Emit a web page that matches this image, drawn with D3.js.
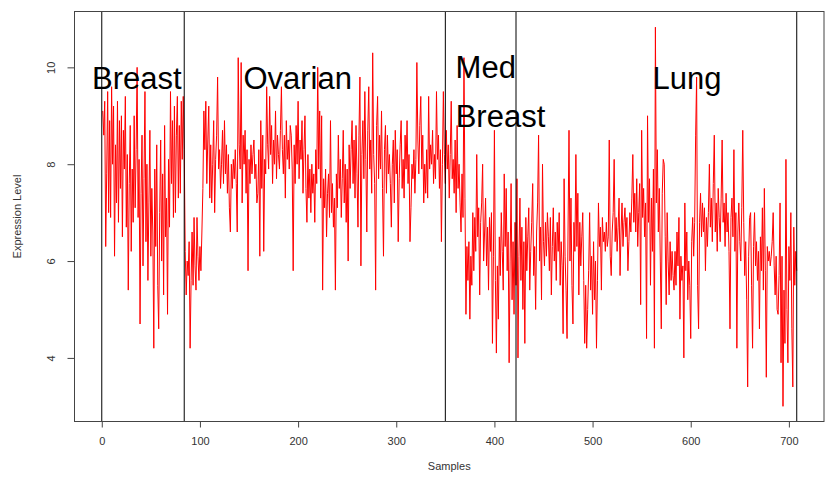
<!DOCTYPE html>
<html><head><meta charset="utf-8">
<script src="https://cdn.jsdelivr.net/npm/d3@7"></script>
<style>body{margin:0;background:#fff}svg{display:block}</style>
</head><body>
<svg id="chart" width="827" height="477"></svg>
<script>
// Expression level per sample, grouped by tissue block (samples 1..708)
const breastVals = [
9.1,8.6,9.3,6.3,7.8,9.5,7.0,8.9,6.9,9.6,
8.0,9.2,6.1,8.4,7.2,9.3,6.8,8.9,7.5,9.0,
6.5,8.7,7.9,9.4,6.7,8.2,5.4,7.6,8.8,6.2,
7.9,6.8,9.0,7.1,8.3,10.0,6.9,8.1,4.7,7.4,
8.6,5.9,7.7,9.5,6.4,8.0,5.6,7.2,8.7,6.1,
7.5,6.6,4.2,7.9,6.3,8.4,5.5,4.6,7.0,8.5,
6.0,7.8,5.3,8.8,6.5,7.3,4.9,8.1,6.7,9.5,
7.6,8.9,6.9,9.2,7.0,8.6,9.4,7.3,8.8,7.4,
9.3,8.1,9.4,8.3];
const ovarianVals = [
6.2,5.3,6.0,5.7,6.4,4.2,5.6,6.6,5.5,6.9,
5.9,5.4,6.9,6.1,5.6,6.3,5.8,6.6,7.5,9.1,
8.3,9.3,7.6,8.5,9.2,7.3,8.4,7.2,8.0,8.9,
7.0,8.1,8.6,9.8,7.9,8.3,7.5,8.0,8.7,7.6,
8.9,7.8,8.4,7.4,8.2,7.1,6.6,8.0,7.5,8.1,
7.7,8.3,7.6,6.6,10.2,8.4,7.9,10.1,7.2,8.6,
8.0,8.7,7.4,8.3,5.8,8.1,7.6,8.4,7.8,8.2,
8.5,7.7,8.0,7.2,7.4,8.3,6.1,8.9,7.5,8.6,
6.2,8.1,7.8,9.6,8.4,7.9,9.4,8.2,8.8,7.6,
8.5,8.0,9.1,7.7,8.6,8.2,7.9,8.7,9.6,8.3,
7.8,8.6,7.3,8.9,8.1,8.5,7.9,8.8,
8.6,7.9,5.8,8.4,7.6,8.8,8.0,9.3,7.7,8.5,
8.1,8.9,7.4,8.3,9.0,7.5,6.8,8.2,7.3,7.9,
7.0,8.0,7.4,7.8,6.8,8.3,7.6,10.0,7.9,9.1,
7.3,9.0,5.4,7.7,7.1,7.9,6.5,7.4,7.8,6.9,
8.9,7.0,7.6,6.7,7.3,5.4,7.8,7.1,8.6,7.5,
8.1,6.9,7.7,8.7,7.2,8.0,6.8,7.9,6.0,8.4,
7.5,8.3,8.9,7.6,8.5,7.3,8.8,7.8,6.7,8.6,
9.8,5.9,8.2,8.9,7.7,9.5,8.1,6.6,8.7,9.6,
7.9,8.5,7.4,10.3,8.2,7.6,5.4,8.8,9.4,7.7,
8.6,7.9,9.1,7.5,6.1,8.3,8.8,7.4,8.6,7.8,
8.2,7.6,6.7,8.0,8.5,7.2,8.7,7.8,8.3,6.4,
7.7,8.4,8.9,7.5,8.1,7.3,8.6,7.9,8.9,7.6,
8.2,6.4,7.1,8.0,7.7,8.3,7.4,8.1,10.1,8.5,
7.8,8.8,9.4,7.9,8.6,7.2,8.0,7.4,8.3,7.3,
9.4,7.9,8.4,8.0,8.7,7.6,8.2,7.7,9.5,8.1,
8.6,7.5,8.3,6.4,8.0,9.5,8.2,7.6];
const medBreastVals = [
8.7,7.9,
8.4,7.3,8.2,9.3,7.7,8.1,7.4,8.5,7.0,8.8,
7.5,8.0,7.2,6.6,7.8,6.9,10.2,7.3,4.9,6.3,
5.6,6.4,4.8,6.1,5.5,7.0,5.8,6.9,6.2,8.2,
6.5,7.1,5.3,6.8,7.2,8.0,6.0,6.6,7.3,5.9,
6.7,5.4,6.9,6.2,7.0,4.3,6.1,8.7,5.6,4.1,
5.9,4.8,6.5,5.7,7.0,6.2,5.4,7.8,6.3,7.5,
5.8,6.6,3.9,6.0,7.6,5.2,6.4,4.9,6.8,5.5];
const lungVals = [
7.7,4.0,6.1,7.3,5.6,6.7,5.0,6.4,4.3,6.9,
5.8,6.5,7.1,5.4,6.2,6.8,7.6,5.7,6.3,5.0,
6.6,7.2,8.6,6.0,6.7,5.2,8.0,6.4,5.9,6.8,
6.1,7.0,6.5,5.8,6.9,5.3,6.3,7.1,6.0,6.6,
5.6,6.8,6.2,7.0,5.5,6.4,5.9,4.5,7.7,6.1,
5.4,4.4,6.6,8.7,6.0,7.3,5.5,4.7,6.8,6.2,
8.2,6.3,7.4,5.3,6.8,5.9,6.5,7.0,5.6,4.3,
5.5,4.2,5.0,5.8,7.0,5.4,6.1,4.9,6.4,5.2,
6.0,4.2,5.6,7.2,6.3,6.7,5.4,6.9,6.4,6.6,
6.2,6.8,6.3,6.5,8.5,6.1,5.7,6.6,7.0,8.1,
6.4,6.9,6.2,6.7,7.3,5.7,6.6,7.2,6.3,6.8,
7.1,6.5,6.9,5.8,6.4,7.0,6.6,7.3,8.2,6.8,
7.4,6.6,7.7,6.3,7.0,7.6,5.1,8.7,6.9,7.5,
6.5,7.2,4.4,9.0,6.8,7.7,5.5,7.3,6.2,7.9,
4.2,10.83,7.2,8.3,6.6,7.5,6.0,4.6,7.4,8.1,
8.0,6.5,5.1,7.0,6.0,5.3,6.4,5.6,6.2,5.7,
5.4,6.2,5.5,6.6,5.9,6.9,4.8,6.1,5.6,5.9,
4.0,7.2,5.8,6.6,5.2,6.0,5.5,4.4,6.4,6.9,
6.1,6.8,8.6,9.8,5.5,4.6,6.8,7.4,6.5,7.2,
6.6,7.1,5.8,6.9,6.3,7.0,8.0,6.7,7.3,6.4,
7.6,8.6,6.6,7.2,6.2,7.5,6.9,6.4,7.3,8.5,
6.8,7.2,6.3,7.4,6.6,7.0,6.2,4.6,6.9,7.3,
6.5,8.3,6.2,7.0,4.2,6.6,7.2,6.4,6.0,7.1,
8.7,6.8,5.7,6.4,5.2,3.4,6.1,6.9,7.0,5.5,
4.2,6.3,7.0,5.9,6.4,5.6,6.2,4.6,6.5,5.8,
7.1,5.4,7.5,5.8,3.6,6.3,6.0,6.2,5.9,6.1,
6.4,7.0,5.9,5.3,6.1,5.0,4.9,5.7,7.2,3.9,
6.1,3.0,5.4,4.3,8.1,5.0,3.9,6.3,5.6,7.0,
4.6,3.4,6.7,5.5,6.2,5.8];

const xTicks = [0,100,200,300,400,500,600,700];
const yTicks = [4,6,8,10];
const dividers = [0,84,350,422,708];
const groupNames = ["Breast","Ovarian","Med","Breast","Lung"];
const groupNameSample = [35.7,199.6,391.2,406.2,596.1];
const groupNameLevel = [9.55,9.55,9.77,8.77,9.55];

const values = breastVals.concat(ovarianVals, medBreastVals, lungVals);
const samples = values.map((v,i)=>i+1);

const svg = d3.select("#chart");
const font = "'Liberation Sans', Arial, Helvetica, sans-serif";
const L = 74.5, R = 824, T = 11.5, B = 421.5;

const n = values.length;
const xpad = 0.04*(n-1);
const x = d3.scaleLinear().domain([1-xpad, n+xpad]).range([75, 824.5]);
const [ymin, ymax] = d3.extent(values);
const ypad = 0.04*(ymax-ymin);
const y = d3.scaleLinear().domain([ymin-ypad, ymax+ypad]).range([B, T+0.5]);

// data line
const line = d3.line().x((d,i)=>x(samples[i])).y(d=>y(d));
svg.append("path").datum(values).attr("d", line)
  .attr("fill","none").attr("stroke","#ff0000").attr("stroke-width",1);

// dividers
svg.selectAll("line.div").data(dividers).join("line").attr("class","div")
  .attr("x1",d=>x(d)).attr("x2",d=>x(d)).attr("y1",T).attr("y2",B)
  .attr("stroke","#000").attr("stroke-width",1);

// box
svg.append("rect").attr("x",L).attr("y",T).attr("width",R-L).attr("height",B-T)
  .attr("fill","none").attr("stroke","#444").attr("stroke-width",1);

// x axis
const xa = svg.append("g").attr("transform",`translate(0,${B})`)
  .call(d3.axisBottom(x).tickValues(xTicks).tickSize(6).tickPadding(10).tickFormat(d3.format("d")));
xa.select(".domain").remove();
xa.selectAll(".tick line").attr("stroke","#444");
xa.selectAll(".tick text").attr("font-family",font).attr("font-size",11).attr("fill","#333");

// y axis
const ya = svg.append("g").attr("transform",`translate(${L},0)`)
  .call(d3.axisLeft(y).tickValues(yTicks).tickSize(7).tickFormat(d3.format("d")));
ya.select(".domain").remove();
ya.selectAll(".tick line").attr("stroke","#444");
ya.selectAll(".tick text").attr("x",0).attr("dy",null)
  .attr("transform","translate(-19.5,0) rotate(-90)")
  .attr("text-anchor","middle").attr("font-family",font).attr("font-size",11).attr("fill","#333");

// axis titles
svg.append("text").attr("x",(L+R)/2).attr("y",470).attr("text-anchor","middle")
  .attr("font-family",font).attr("font-size",11).attr("fill","#333").text("Samples");
svg.append("text").attr("transform",`translate(21,${(T+B)/2}) rotate(-90)`).attr("text-anchor","middle")
  .attr("font-family",font).attr("font-size",11).attr("fill","#333").text("Expression Level");

// group labels
svg.selectAll("text.grp").data(groupNames).join("text").attr("class","grp")
  .attr("x",(d,i)=>x(groupNameSample[i])).attr("y",(d,i)=>y(groupNameLevel[i]))
  .attr("text-anchor","middle").attr("font-family",font).attr("font-size",31).attr("fill","#000")
  .text(d=>d);
</script>
</body></html>
